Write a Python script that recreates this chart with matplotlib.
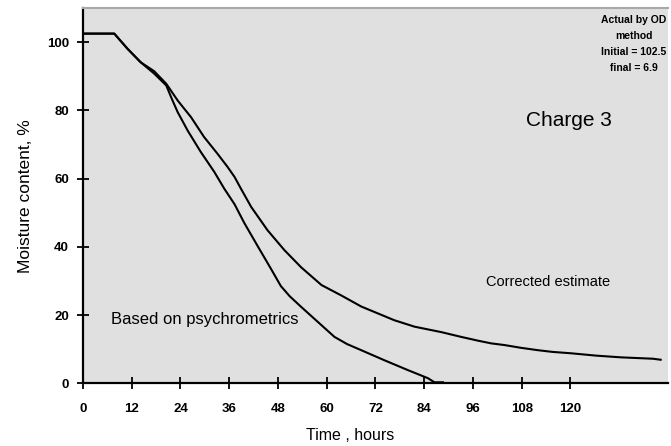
#!/usr/bin/env python3
"""Moisture content vs drying time, charge 3."""

import matplotlib

matplotlib.use("Agg")

import matplotlib.pyplot as plt

# lower curve: estimate based on psychrometrics
PSY_HOURS = [0, 7.7, 11.0, 14.2, 17.5, 20.5, 22.0, 23.3, 25.8, 29.0, 32.3, 34.8, 37.3, 39.7,
             43.1, 46.3, 48.7, 50.9, 53.7, 57.8, 61.9, 65.0, 68.5, 74.1, 79.9, 84.9, 86.5, 88.6]
PSY_MC = [102.5, 102.5, 98.0, 94.1, 90.8, 87.3, 83.0, 79.5, 74.0, 67.8, 62.0, 57.0, 52.5, 47.0,
          40.0, 33.5, 28.5, 25.5, 22.4, 18.0, 13.6, 11.5, 9.7, 6.8, 3.9, 1.5, 0.3, 0.3]

# upper curve: corrected estimate
COR_HOURS = [0, 7.7, 11.0, 14.2, 17.5, 20.5, 23.3, 26.6, 29.8, 33.1, 35.6, 37.3, 38.9, 41.4,
             45.4, 49.6, 53.7, 58.7, 63.5, 68.5, 76.6, 81.6, 88.2, 93.1, 97.2, 100.5, 103.8,
             107.8, 112.0, 115.6, 120.1, 126.4, 132.5, 140.3, 142.2]
COR_MC = [102.5, 102.5, 98.0, 94.1, 91.5, 87.8, 82.9, 78.0, 72.2, 67.3, 63.4, 60.5, 57.0, 51.7,
          44.9, 39.0, 34.0, 28.8, 25.8, 22.5, 18.5, 16.6, 15.0, 13.6, 12.5, 11.7, 11.2,
          10.4, 9.7, 9.2, 8.8, 8.1, 7.6, 7.2, 6.9]

X_TICKS = [0, 12, 24, 36, 48, 60, 72, 84, 96, 108, 120]
Y_TICKS = [0, 20, 40, 60, 80, 100]

OD_NOTE = "Actual by OD\nmethod\nInitial = 102.5\nfinal = 6.9"


def main() -> None:
    plt.rcParams["font.family"] = ["Liberation Sans", "DejaVu Sans"]

    fig = plt.figure(figsize=(6.71, 4.46), dpi=100)
    ax = fig.add_axes([0.1237, 0.1406, 0.8718, 0.8414])
    ax.set_facecolor("#e0e0e0")

    ax.plot(PSY_HOURS, PSY_MC, color="black", linewidth=1.5)
    ax.plot(COR_HOURS, COR_MC, color="black", linewidth=1.5)

    ax.set_xlim(0, 144)
    ax.set_ylim(0, 110)
    ax.set_xticks(X_TICKS)
    ax.set_yticks(Y_TICKS)
    ax.tick_params(direction="inout", length=8, width=1.3, labelsize=9.5)
    ax.tick_params(axis="x", pad=10)
    ax.tick_params(axis="y", pad=6)
    for label in ax.get_xticklabels() + ax.get_yticklabels():
        label.set_fontweight("bold")

    for side in ("left", "bottom"):
        ax.spines[side].set_linewidth(1.6)
        ax.spines[side].set_color("black")
    ax.spines["top"].set_color("#a8a8a8")
    ax.spines["top"].set_linewidth(1.5)
    ax.spines["right"].set_visible(False)

    ax.set_xlabel("Time , hours", fontsize=11.5)
    ax.xaxis.set_label_coords(0.456, -0.12)
    ax.set_ylabel("Moisture content, %", fontsize=12.5, labelpad=10)

    ax.text(6.8, 18.8, "Based on psychrometrics", fontsize=12, ha="left", va="center")
    ax.text(99.3, 29.6, "Corrected estimate", fontsize=10.5, ha="left", va="center")
    ax.text(119.7, 77, "Charge 3", fontsize=15, ha="center", va="center")
    ax.text(135.6, 108.0, OD_NOTE, fontsize=7.5, fontweight="bold", ha="center", va="top",
            linespacing=1.75)

    fig.savefig("out.png", dpi=100)
    plt.close(fig)


if __name__ == "__main__":
    main()
